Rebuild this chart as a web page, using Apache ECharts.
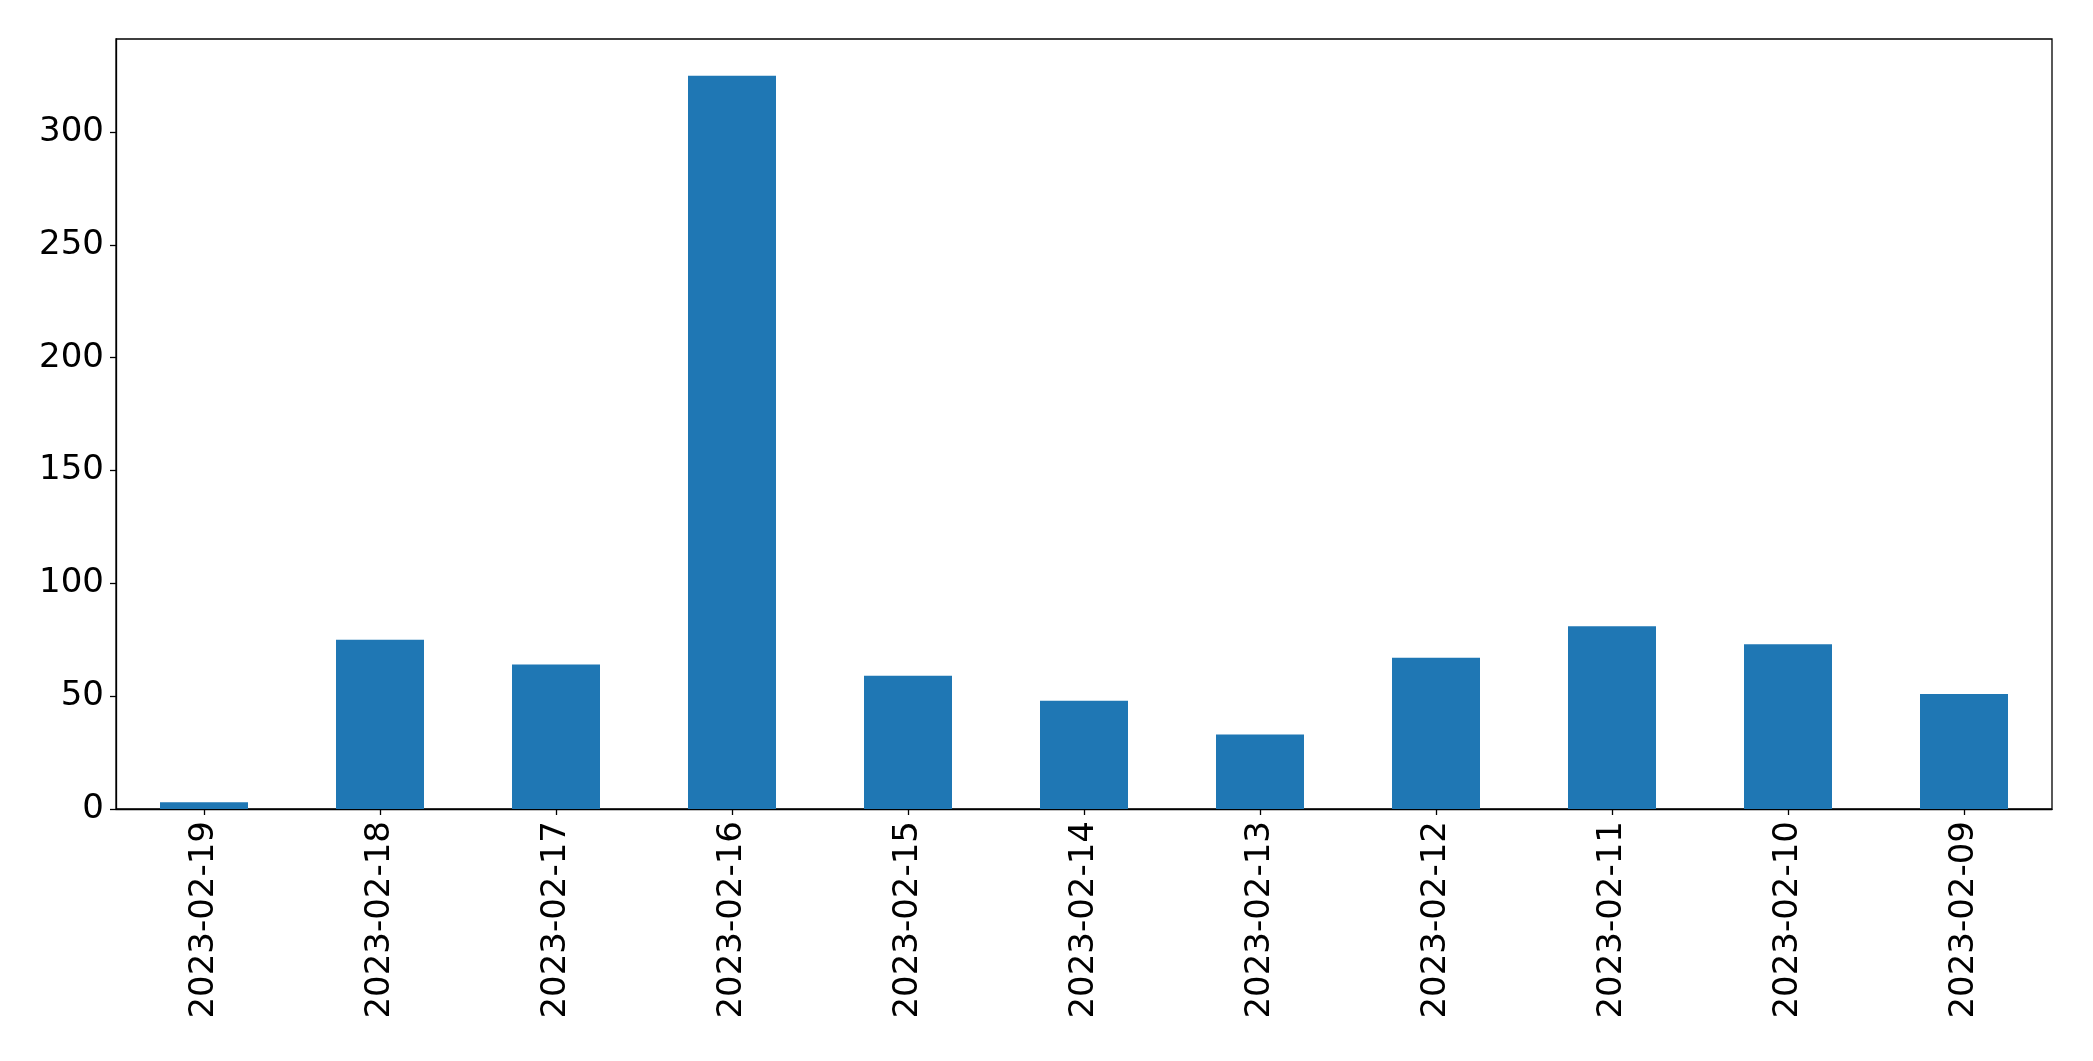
<!DOCTYPE html>
<html>
<head>
<meta charset="utf-8">
<script src="https://cdn.jsdelivr.net/npm/echarts@6/dist/echarts.min.js"></script>
<style>
html,body{margin:0;padding:0;background:#fff;}
#chart{width:2093px;height:1061px;}
</style>
</head>
<body>
<div id="chart"></div>
<script>
const categories = ["2023-02-19","2023-02-18","2023-02-17","2023-02-16","2023-02-15","2023-02-14","2023-02-13","2023-02-12","2023-02-11","2023-02-10","2023-02-09"];
const values = [3, 75, 64, 325, 59, 48, 33, 67, 81, 73, 51];
const yMax = 341.25;

const chart = echarts.init(document.getElementById('chart'), null, {renderer: 'canvas'});
const font = "'DejaVu Sans', sans-serif";
chart.setOption({
  animation: false,
  backgroundColor: '#ffffff',
  grid: {left: 116, top: 39, right: 41, bottom: 252, show: true, borderColor: '#000', borderWidth: 1.3, backgroundColor: 'transparent'},
  xAxis: {
    type: 'category',
    data: categories,
    boundaryGap: true,
    axisLine: {show: true, lineStyle: {color: '#000', width: 1.3}},
    axisTick: {show: true, alignWithLabel: true, length: 6, lineStyle: {color: '#000', width: 1.3}},
    axisLabel: {rotate: 90, color: '#000', fontSize: 34, fontFamily: font, margin: 12, interval: 0},
    splitLine: {show: false}
  },
  yAxis: {
    type: 'value',
    min: 0,
    max: yMax,
    interval: 50,
    axisLine: {show: true, lineStyle: {color: '#000', width: 1.3}},
    axisTick: {show: true, length: 6, lineStyle: {color: '#000', width: 1.3}},
    axisLabel: {color: '#000', fontSize: 34, fontFamily: font, margin: 12, showMaxLabel: false},
    splitLine: {show: false}
  },
  series: [{
    type: 'bar',
    data: values,
    barWidth: '50%',
    itemStyle: {color: '#1f77b4'}
  }]
});
</script>
</body>
</html>
